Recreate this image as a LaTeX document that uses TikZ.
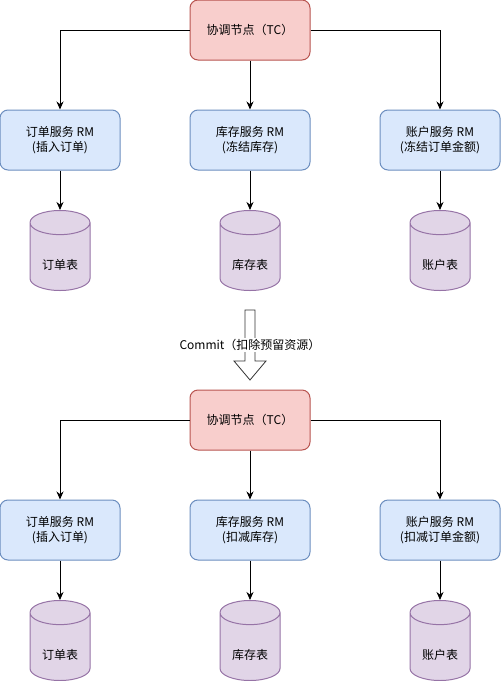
\documentclass[tikz,border=0pt]{standalone}
\usepackage{fontspec}
\setmainfont{Noto Sans CJK SC}
\usepackage{xcolor}
\usepackage{tikz}
\usetikzlibrary{
    arrows.meta,
    shapes.geometric
}
\definecolor{tcfill}{HTML}{F8CECC}
\definecolor{tcline}{HTML}{B85450}
\definecolor{rmfill}{HTML}{DAE8FC}
\definecolor{rmline}{HTML}{6C8EBF}
\definecolor{dbfill}{HTML}{E1D5E7}
\definecolor{dbline}{HTML}{9673A6}
\begin{document}
\begin{tikzpicture}[x=1pt,y=-1pt,->,>={Stealth[length=8pt,width=7pt]},line width=1pt,
    font=\fontsize{12}{15}\selectfont]
    \tikzstyle{tcbox}=[shape=rectangle, rounded corners=8pt, draw=tcline, fill=tcfill, minimum width=120pt, minimum height=60pt, align=center]
    \tikzstyle{rmbox}=[shape=rectangle, rounded corners=8pt, draw=rmline, fill=rmfill, minimum width=120pt, minimum height=60pt, align=center]
    \tikzstyle{db}=[shape=cylinder, shape border rotate=90, aspect=0.67, draw=dbline, fill=dbfill, minimum width=60pt, minimum height=80pt, inner sep=0pt, anchor=north]
    \tikzstyle{dbtext}=[label={[yshift=-8pt]center:#1}]
    \useasboundingbox (0,0) rectangle (501,681);

    % prepare
    \node [tcbox] (tcA) at (250, 30) {协调节点（TC）};
    \node [rmbox] (orderA) at (60, 140) {订单服务 RM\\(插入订单)};
    \node [rmbox] (stockA) at (250, 140) {库存服务 RM\\(冻结库存)};
    \node [rmbox] (accountA) at (440, 140) {账户服务 RM\\(冻结订单金额)};
    \node [db, dbtext=订单表] (orderdbA) at (60, 210) {\phantom{订单表}};
    \node [db, dbtext=库存表] (stockdbA) at (250, 210) {\phantom{库存表}};
    \node [db, dbtext=账户表] (accountdbA) at (440, 210) {\phantom{账户表}};

    \draw (tcA.west) -| (orderA.north);
    \draw (tcA) -- (stockA);
    \draw (tcA.east) -| (accountA.north);
    \draw (orderA) -- (orderdbA.north);
    \draw (stockA) -- (stockdbA.north);
    \draw (accountA) -- (accountdbA.north);

    % commit
    \draw [-, line width=0.8pt, draw=black!80] (245, 310) -- (255, 310) -- (255, 361) -- (266, 361) -- (250, 380) -- (234, 361) -- (245, 361) -- cycle;
    \node [fill=white, inner sep=1pt] (commit) at (250, 345) {Commit（扣除预留资源）};

    \node [tcbox] (tcB) at (250, 420) {协调节点（TC）};
    \node [rmbox] (orderB) at (60, 530) {订单服务 RM\\(插入订单)};
    \node [rmbox] (stockB) at (250, 530) {库存服务 RM\\(扣减库存)};
    \node [rmbox] (accountB) at (440, 530) {账户服务 RM\\(扣减订单金额)};
    \node [db, dbtext=订单表] (orderdbB) at (60, 600) {\phantom{订单表}};
    \node [db, dbtext=库存表] (stockdbB) at (250, 600) {\phantom{库存表}};
    \node [db, dbtext=账户表] (accountdbB) at (440, 600) {\phantom{账户表}};

    \draw (tcB.west) -| (orderB.north);
    \draw (tcB) -- (stockB);
    \draw (tcB.east) -| (accountB.north);
    \draw (orderB) -- (orderdbB.north);
    \draw (stockB) -- (stockdbB.north);
    \draw (accountB) -- (accountdbB.north);
\end{tikzpicture}
\end{document}
